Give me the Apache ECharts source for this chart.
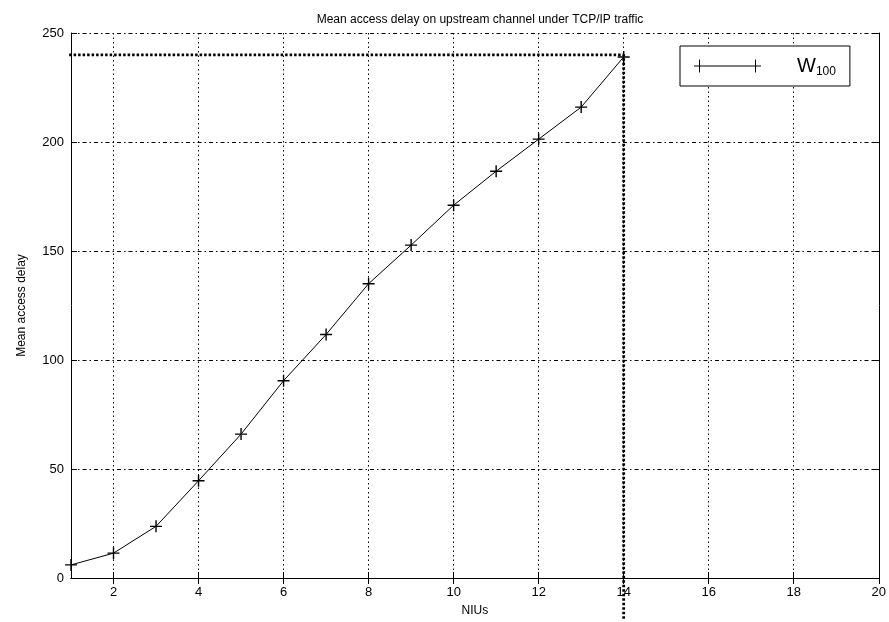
<!DOCTYPE html>
<html>
<head>
<meta charset="utf-8">
<script src="https://cdn.jsdelivr.net/npm/echarts@6/dist/echarts.min.js"></script>
<style>
  html, body { margin: 0; padding: 0; background: #fff; }
  #chart { width: 889px; height: 622px; }
</style>
</head>
<body>
<div id="chart"></div>
<script>
// data
const nius = [1, 2, 3, 4, 5, 6, 7, 8, 9, 10, 11, 12, 13, 14];
const delayW100 = [6, 11.4, 23.7, 44.6, 66, 90.5, 111.7, 135, 152.7, 171, 186.6, 201.3, 216, 239];
const xTicks = [2, 4, 6, 8, 10, 12, 14, 16, 18, 20];
const yTicks = [0, 50, 100, 150, 200, 250];
// dotted marker lines at delay 240 / 14 NIUs
const refX = [0.85, 14, 14];
const refY = [240, 240, -19];

const font = "Liberation Sans";
const chart = echarts.init(document.getElementById("chart"));

// matlab style '+' marker
const plus = "path://M0,5.3h12v1.4h-12z M5.3,0h1.4v12h-1.4z";

const boxAxis = {
  axisLine: { show: true, lineStyle: { color: "#000", width: 1 } },
  axisTick: { show: true, inside: true, length: 6, lineStyle: { color: "#000" } },
  axisLabel: { show: false },
  splitLine: { show: false }
};

const option = {
  backgroundColor: "#fff",
  animation: false,
  title: {
    text: "Mean access delay on upstream channel under TCP/IP traffic",
    left: 475,
    textAlign: "center",
    top: 9,
    textStyle: { fontFamily: font, fontSize: 12, fontWeight: "normal", color: "#000" }
  },
  grid: { left: 71, right: 10, top: 33, bottom: 40 },
  legend: {
    data: ["W100"],
    left: 680,
    top: 46,
    padding: [10, 14, 8, 14],
    borderColor: "#000",
    borderWidth: 1,
    backgroundColor: "#fff",
    itemWidth: 67,
    itemHeight: 13,
    icon: "path://M0,6h67v1h-67z M5,0h1v13h-1z M61,0h1v13h-1z",
    itemStyle: { color: "#000" },
    formatter: () => "{w|W}{s|100}",
    textStyle: {
      rich: {
        w: { fontFamily: font, fontSize: 20, color: "#000", padding: [0, 0, 0, 31] },
        s: { fontFamily: font, fontSize: 12, color: "#000", padding: [12, 0, 0, 0] }
      }
    }
  },
  xAxis: [
    {
      type: "value",
      min: 1,
      max: 20,
      name: "NIUs",
      nameLocation: "middle",
      nameGap: 27,
      nameTextStyle: { fontFamily: font, fontSize: 12, color: "#000" },
      axisLine: { show: true, lineStyle: { color: "#000", width: 1 } },
      axisTick: { show: true, inside: true, length: 6, customValues: xTicks, lineStyle: { color: "#000" } },
      axisLabel: { customValues: xTicks, fontFamily: font, fontSize: 13, color: "#000", margin: 8 },
      splitLine: { show: true, lineStyle: { color: "#000", width: 1, type: [1.5, 3] } }
    },
    Object.assign({}, boxAxis, {
      type: "value", position: "top", min: 1, max: 20,
      axisTick: Object.assign({}, boxAxis.axisTick, { customValues: xTicks })
    })
  ],
  yAxis: [
    {
      type: "value",
      min: 0,
      max: 250,
      interval: 50,
      name: "Mean access delay",
      nameLocation: "middle",
      nameGap: 43,
      nameTextStyle: { fontFamily: font, fontSize: 12, color: "#000" },
      axisLine: { show: true, lineStyle: { color: "#000", width: 1 } },
      axisTick: { show: true, inside: true, length: 6, lineStyle: { color: "#000" } },
      axisLabel: { fontFamily: font, fontSize: 13, color: "#000", margin: 7 },
      splitLine: { show: true, lineStyle: { color: "#000", width: 1, type: [4, 3, 1.5, 3] } }
    },
    Object.assign({}, boxAxis, { type: "value", position: "right", min: 0, max: 250, interval: 50 })
  ],
  series: [
    {
      name: "W100",
      type: "line",
      data: nius.map((x, i) => [x, delayW100[i]]),
      symbol: plus,
      symbolSize: [12, 12],
      showAllSymbol: true,
      lineStyle: { color: "#000", width: 1 },
      itemStyle: { color: "#000" },
      z: 5
    },
    {
      name: "ref",
      type: "line",
      data: refX.map((x, i) => [x, refY[i]]),
      symbol: "none",
      clip: false,
      silent: true,
      lineStyle: { color: "#000", width: 2.8, type: [2.5, 2] },
      z: 4
    }
  ]
};

chart.setOption(option);
</script>
</body>
</html>
